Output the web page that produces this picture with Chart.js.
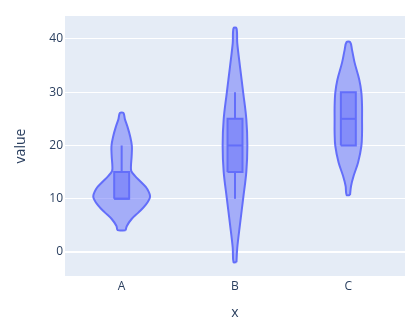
<!DOCTYPE html>
<html>
<head>
<meta charset="utf-8">
<script src="https://cdn.jsdelivr.net/npm/chart.js@4/dist/chart.umd.min.js"></script>
<style>
  html, body { margin: 0; padding: 0; background: #ffffff; }
  #wrap { width: 419px; height: 323px; }
</style>
</head>
<body>
<div id="wrap"><canvas id="c" width="419" height="323"></canvas></div>
<script>
// Groups along the x axis
const categories = ['A', 'B', 'C'];

// Violin outlines: value positions and half-widths (in category units)
const violinAValues = [4.1, 4.9, 6.2, 7.4, 8.7, 10.3, 11.8, 13.0, 14.3, 15.2, 16.1, 18.0, 19.9, 21.7, 23.6, 24.9, 26.1];
const violinAHalf   = [0.035, 0.046, 0.088, 0.147, 0.206, 0.25, 0.227, 0.177, 0.117, 0.085, 0.082, 0.088, 0.09, 0.075, 0.05, 0.029, 0.015];

const violinBValues = [-1.9, 0.8, 5.2, 10.2, 15.1, 20.0, 24.9, 29.8, 34.8, 39.2, 42.0];
const violinBHalf   = [0.013, 0.02, 0.044, 0.073, 0.1, 0.109, 0.1, 0.073, 0.044, 0.02, 0.013];

const violinCValues = [10.7, 12.4, 14.3, 16.8, 19.9, 22.4, 24.9, 27.3, 29.9, 32.3, 35.5, 37.9, 39.4];
const violinCHalf   = [0.015, 0.024, 0.047, 0.086, 0.115, 0.121, 0.121, 0.121, 0.115, 0.097, 0.056, 0.033, 0.016];

// Box statistics per group
const lowerFence = [10, 10, 20];
const q1         = [10, 15, 20];
const median     = [10, 20, 25];
const q3         = [15, 25, 30];
const upperFence = [20, 30, 30];

// Y axis ticks
const yTicks = [0, 10, 20, 30, 40];

const violinValues = [violinAValues, violinBValues, violinCValues];
const violinHalf = [violinAHalf, violinBHalf, violinCHalf];

const LINE = '#636efa';
const FILL = 'rgba(99,110,250,0.5)';
const BOX_HALF = 0.066;

function violinOutline(i) {
  const ys = violinValues[i], hs = violinHalf[i];
  const pts = [];
  for (let k = 0; k < ys.length; k++) pts.push({ x: i + hs[k], y: ys[k] });
  for (let k = ys.length - 1; k >= 0; k--) pts.push({ x: i - hs[k], y: ys[k] });
  pts.push({ x: i + hs[0], y: ys[0] });
  return pts;
}

function segment(label, a, b) {
  return {
    label, data: [a, b],
    showLine: true, fill: false, tension: 0,
    borderColor: LINE, borderWidth: 2, pointRadius: 0, order: 1
  };
}

const datasets = [];
categories.forEach((cat, i) => {
  datasets.push({
    label: cat + ' violin',
    data: violinOutline(i),
    showLine: true, fill: 'shape', tension: 0.35,
    borderColor: LINE, backgroundColor: FILL, borderWidth: 2,
    pointRadius: 0, order: 3
  });
  datasets.push({
    label: cat + ' box',
    data: [
      { x: i - BOX_HALF, y: q1[i] }, { x: i + BOX_HALF, y: q1[i] },
      { x: i + BOX_HALF, y: q3[i] }, { x: i - BOX_HALF, y: q3[i] },
      { x: i - BOX_HALF, y: q1[i] }
    ],
    showLine: true, fill: 'shape', tension: 0,
    borderColor: LINE, backgroundColor: FILL, borderWidth: 2,
    pointRadius: 0, order: 2
  });
  datasets.push(segment(cat + ' median', { x: i - BOX_HALF, y: median[i] }, { x: i + BOX_HALF, y: median[i] }));
  if (upperFence[i] > q3[i]) datasets.push(segment(cat + ' upper whisker', { x: i, y: q3[i] }, { x: i, y: upperFence[i] }));
  if (lowerFence[i] < q1[i]) datasets.push(segment(cat + ' lower whisker', { x: i, y: q1[i] }, { x: i, y: lowerFence[i] }));
});

const plotBackground = {
  id: 'plotBackground',
  beforeDraw(chart) {
    const { ctx, chartArea: a } = chart;
    ctx.save();
    ctx.fillStyle = '#e5ecf6';
    ctx.fillRect(a.left, a.top, a.right - a.left, a.bottom - a.top);
    ctx.restore();
  }
};

const FONT = "'Open Sans', verdana, arial, sans-serif";
const TEXT = '#2a3f5f';

new Chart(document.getElementById('c'), {
  type: 'scatter',
  data: { datasets },
  plugins: [plotBackground],
  options: {
    responsive: false,
    animation: false,
    events: [],
    layout: { padding: { left: 0, top: 16, right: 14, bottom: 0 } },
    plugins: { legend: { display: false }, tooltip: { enabled: false } },
    scales: {
      x: {
        type: 'linear', min: -0.5, max: 2.5,
        afterBuildTicks(scale) { scale.ticks = categories.map((c, i) => ({ value: i })); },
        afterFit(scale) { scale.height = 47; },
        grid: { display: false, drawTicks: false },
        border: { display: false },
        ticks: {
          padding: 3, color: TEXT, font: { family: FONT, size: 12 },
          callback: (v) => categories[v]
        },
        title: { display: true, text: 'x', color: TEXT, font: { family: FONT, size: 14 }, padding: { top: 0, bottom: 2 } }
      },
      y: {
        type: 'linear', min: -4.5, max: 44.3,
        afterBuildTicks(scale) { scale.ticks = yTicks.map(v => ({ value: v })); },
        afterFit(scale) { scale.width = 65; },
        grid: {
          color: '#ffffff', drawTicks: false,
          lineWidth: (ctx) => (ctx.tick && ctx.tick.value === 0 ? 2 : 1)
        },
        border: { display: false },
        ticks: { padding: 2, color: TEXT, font: { family: FONT, size: 12 } },
        title: { display: true, text: 'value', color: TEXT, font: { family: FONT, size: 14 }, padding: { top: 13, bottom: 0 } }
      }
    }
  }
});
</script>
</body>
</html>
